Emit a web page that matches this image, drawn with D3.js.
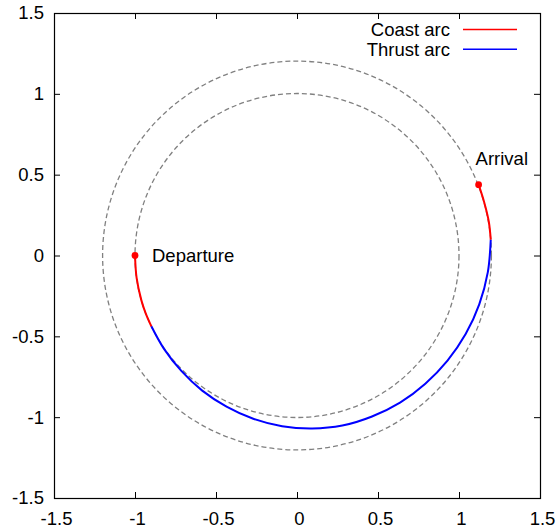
<!doctype html>
<html>
<head>
  <meta charset="utf-8">
  <title>Transfer trajectory</title>
  <script src="https://d3js.org/d3.v7.min.js"></script>
  <style>
    body { margin: 0; background: #fff; }
    text { font-family: "Liberation Sans", Arial, sans-serif; font-size: 18.5px; fill: #000; }
    .orbit { fill: none; stroke: #808080; stroke-width: 1.3; stroke-dasharray: 5,3; }
    .tick line { stroke: #000; stroke-width: 1; }
  </style>
</head>
<body>
  <div id="chart"></div>
  <script>
    // values (x, y in orbit units)
    var tickValues = [-1.5, -1, -0.5, 0, 0.5, 1, 1.5];
    var tickLabels = ["-1.5", "-1", "-0.5", "0", "0.5", "1", "1.5"];
    var orbitRadii = [1.0, 1.2];

    var coastArc1 = [
      [-1.000, 0.000], [-0.990, -0.139], [-0.961, -0.276], [-0.934, -0.358], [-0.899, -0.438]
    ];
    var thrustArc = [
      [-0.899, -0.438], [-0.822, -0.576], [-0.714, -0.714], [-0.585, -0.836], [-0.435, -0.935],
      [-0.270, -1.010], [-0.092, -1.056], [0.093, -1.070], [0.280, -1.052], [0.463, -0.996],
      [0.636, -0.910], [0.792, -0.793], [0.929, -0.650], [1.041, -0.486], [1.125, -0.302],
      [1.178, -0.103], [1.196, 0.098]
    ];
    var coastArc2 = [
      [1.196, 0.098], [1.184, 0.209], [1.155, 0.331], [1.121, 0.438]
    ];
    var departure = [-1.0, 0.0];
    var arrival = [1.121, 0.438];

    var legendItems = ["Coast arc", "Thrust arc"];
    var legendColors = ["#ff0000", "#0000ff"];

    var width = 556;
    var height = 531;
    var plotLeft = 54, plotRight = 540, plotTop = 13, plotBottom = 498;

    var svg = d3.select("#chart")
      .append("svg")
      .attr("width", width)
      .attr("height", height);

    var x = d3.scaleLinear().domain([-1.5, 1.5]).range([plotLeft, plotRight]);
    var y = d3.scaleLinear().domain([-1.5, 1.5]).range([plotBottom, plotTop]);

    function label(d) {
      return tickLabels[tickValues.indexOf(d)];
    }

    // axes, ticks pointing inwards on every side
    var gBottom = svg.append("g")
      .attr("transform", "translate(0," + plotBottom + ")")
      .call(d3.axisBottom(x).tickValues(tickValues).tickSizeInner(-6).tickSizeOuter(0).tickPadding(14).tickFormat(label));
    gBottom.selectAll("text").attr("dx", 2);

    svg.append("g")
      .attr("transform", "translate(" + plotLeft + ",0)")
      .call(d3.axisLeft(y).tickValues(tickValues).tickSizeInner(-6).tickSizeOuter(0).tickPadding(10).tickFormat(label));

    svg.append("g")
      .attr("transform", "translate(0," + plotTop + ")")
      .call(d3.axisTop(x).tickValues(tickValues).tickSizeInner(-6).tickSizeOuter(0).tickFormat(""));

    svg.append("g")
      .attr("transform", "translate(" + plotRight + ",0)")
      .call(d3.axisRight(y).tickValues(tickValues).tickSizeInner(-6).tickSizeOuter(0).tickFormat(""));

    svg.selectAll(".domain").remove();
    svg.selectAll(".tick text")
      .style("font-family", '"Liberation Sans", Arial, sans-serif')
      .style("font-size", "18.5px")
      .attr("fill", "#000");

    // dashed reference orbits
    svg.selectAll("circle.orbit")
      .data(orbitRadii)
      .enter()
      .append("circle")
      .attr("class", "orbit")
      .attr("cx", x(0))
      .attr("cy", y(0))
      .attr("r", function(d) { return x(d) - x(0); });

    var line = d3.line()
      .x(function(d) { return x(d[0]); })
      .y(function(d) { return y(d[1]); })
      .curve(d3.curveCatmullRom);

    svg.append("path").datum(thrustArc)
      .attr("d", line).attr("fill", "none").attr("stroke", "#0000ff").attr("stroke-width", 2);
    svg.append("path").datum(coastArc1)
      .attr("d", line).attr("fill", "none").attr("stroke", "#ff0000").attr("stroke-width", 2);
    svg.append("path").datum(coastArc2)
      .attr("d", line).attr("fill", "none").attr("stroke", "#ff0000").attr("stroke-width", 2);

    // end points
    svg.selectAll("circle.pt")
      .data([departure, arrival])
      .enter()
      .append("circle")
      .attr("class", "pt")
      .attr("cx", function(d) { return x(d[0]); })
      .attr("cy", function(d) { return y(d[1]); })
      .attr("r", 3.4)
      .attr("fill", "#ff0000");

    svg.append("text")
      .attr("x", x(departure[0]) + 17)
      .attr("y", y(departure[1]) + 6)
      .text("Departure");
    svg.append("text")
      .attr("x", x(arrival[0]) - 3)
      .attr("y", y(arrival[1]) - 20)
      .text("Arrival");

    // frame
    svg.append("rect")
      .attr("x", plotLeft + 0.5)
      .attr("y", plotTop + 0.5)
      .attr("width", plotRight - plotLeft)
      .attr("height", plotBottom - plotTop)
      .attr("fill", "none")
      .attr("stroke", "#000")
      .attr("stroke-width", 1.2);

    // legend
    var legend = svg.selectAll("g.legend")
      .data(legendItems)
      .enter()
      .append("g")
      .attr("class", "legend")
      .attr("transform", function(d, i) { return "translate(0," + (29.5 + i * 19.7) + ")"; });

    legend.append("text")
      .attr("x", 450)
      .attr("y", 6.5)
      .attr("text-anchor", "end")
      .text(function(d) { return d; });

    legend.append("line")
      .attr("x1", 463)
      .attr("x2", 517)
      .attr("stroke", function(d, i) { return legendColors[i]; })
      .attr("stroke-width", 1.6);
  </script>
</body>
</html>
